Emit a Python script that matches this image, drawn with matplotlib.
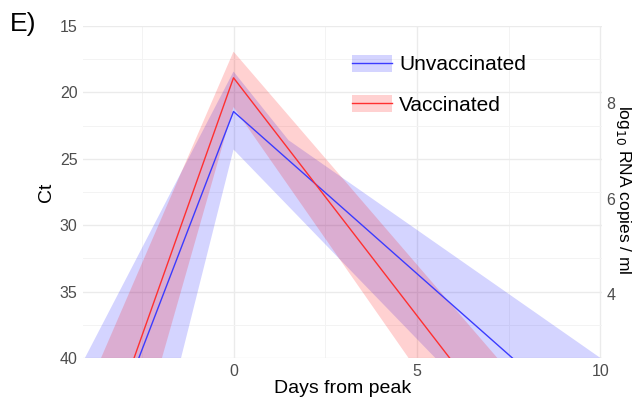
import numpy as np
import matplotlib.pyplot as plt
from matplotlib.patches import Patch
from matplotlib.lines import Line2D

plt.rcParams['font.family'] = ['Liberation Sans', 'DejaVu Sans']

# Trayectorias de Ct (días desde el pico, Ct)
unvac_days = [-2.58, 0.0, 7.6]
unvac_ct = [40.0, 21.44, 40.0]
vac_days = [-2.71, 0.0, 5.89]
vac_ct = [40.0, 18.9, 40.0]

# Contorno de las bandas de incertidumbre (vértices días, Ct)
unvac_band_days = [-4.05, 0.0, 1.5, 10.0, 5.5, 0.0, -1.43]
unvac_band_ct = [40.0, 18.43, 23.6, 40.0, 40.0, 24.3, 40.0]
vac_band_days = [-3.61, 0.0, 7.19, 4.77, 0.0, -1.95]
vac_band_ct = [40.0, 16.93, 40.0, 40.0, 21.1, 40.0]

# Conversión Ct -> log10 copias/ml
ct_intercept = 49.65
ct_slope = 3.61

fig = plt.figure(figsize=(6.34, 4.0), dpi=100)
ax = fig.add_axes([0.131, 0.105, 0.819, 0.830])

ax.fill(unvac_band_days, unvac_band_ct, color='blue', alpha=0.17, lw=0)
ax.fill(vac_band_days, vac_band_ct, color='red', alpha=0.18, lw=0)
ax.plot(unvac_days, unvac_ct, color='#3b3bff', lw=1.0)
ax.plot(vac_days, vac_ct, color='#ff3030', lw=1.0)

ax.set_xlim(-4.1, 10.05)
ax.set_ylim(40, 15)
ax.set_xticks([0, 5, 10])
ax.set_xticks([-2.5, 2.5, 7.5], minor=True)
ax.set_yticks([15, 20, 25, 30, 35, 40])
ax.set_yticks([17.5, 22.5, 27.5, 32.5, 37.5], minor=True)
ax.grid(which='major', color='#ebebeb', lw=1.0)
ax.grid(which='minor', color='#f3f3f3', lw=0.7)
ax.set_axisbelow(True)
for s in ax.spines.values():
    s.set_visible(False)
ax.tick_params(which='both', length=0, labelsize=11.5, labelcolor='#4d4d4d', pad=4)

ax.set_xlabel('Days from peak', fontsize=14, labelpad=1)
ax.set_ylabel('Ct', fontsize=14, labelpad=3)

sec = ax.secondary_yaxis('right', functions=(lambda ct: (ct_intercept - ct) / ct_slope,
                                              lambda lg: ct_intercept - ct_slope * lg))
sec.set_yticks([4, 6, 8])
sec.tick_params(length=0, labelsize=11.5, labelcolor='#4d4d4d', pad=3)
for s in sec.spines.values():
    s.set_visible(False)
fig.text(0.984, 0.525, r'log$_{10}$ RNA copies / ml', fontsize=12.5, rotation=270,
         ha='center', va='center')

handles = [(Patch(facecolor='blue', alpha=0.17, lw=0), Line2D([], [], color='#3b3bff', lw=1.0)),
           (Patch(facecolor='red', alpha=0.18, lw=0), Line2D([], [], color='#ff3030', lw=1.0))]
ax.legend(handles, ['Unvaccinated', 'Vaccinated'], loc='upper left', bbox_to_anchor=(0.482, 0.97),
          frameon=False, fontsize=15, handlelength=1.9, handleheight=0.87, labelspacing=1.0,
          handletextpad=0.35)

fig.text(0.015, 0.9225, 'E)', fontsize=19)

fig.savefig('out.png', dpi=100)
